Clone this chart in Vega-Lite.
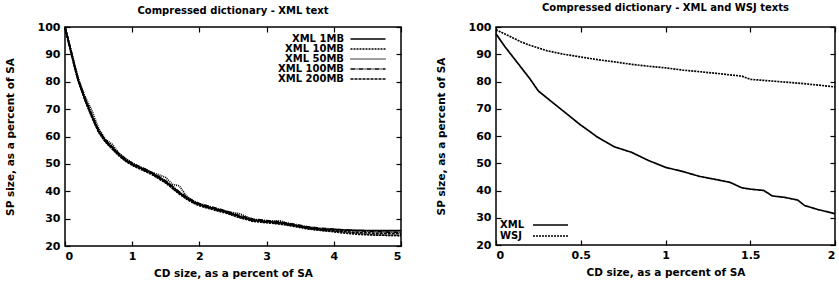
{
  "$schema": "https://vega.github.io/schema/vega-lite/v6.json",
  "padding": {"left": 4, "top": 2, "right": 0, "bottom": 2},
  "spacing": 29,
  "config": {
    "font": "DejaVu Sans",
    "view": {"stroke": "black", "strokeWidth": 1.5},
    "axis": {"domain": false, "grid": false, "labelFont": "DejaVu Sans", "labelFontSize": 11, "labelFontWeight": "bold", "labelColor": "black", "titleFont": "DejaVu Sans", "titleFontSize": 10.5, "titleFontWeight": "bold", "titleColor": "black", "tickColor": "black", "tickWidth": 1.2, "tickSize": -5, "labelPadding": 10},
    "title": {"font": "DejaVu Sans", "fontSize": 10, "fontWeight": "bold", "color": "black", "anchor": "middle", "offset": 5},
    "legend": {"title": null, "labelFont": "DejaVu Sans", "labelFontSize": 10, "labelFontWeight": "bold", "labelColor": "black", "symbolStrokeColor": "black", "symbolFillColor": "transparent", "symbolStrokeWidth": 1.5, "symbolSize": 100, "rowPadding": 0, "padding": 0}
  },
  "resolve": {"scale": {"strokeDash": "independent"}, "legend": {"strokeDash": "independent"}},
  "datasets": {
    "left": [
      {"series":"XML 1MB","cd":0,"sp":100},{"series":"XML 1MB","cd":0.05,"sp":95},{"series":"XML 1MB","cd":0.1,"sp":90},{"series":"XML 1MB","cd":0.15,"sp":85},{"series":"XML 1MB","cd":0.2,"sp":80.5},{"series":"XML 1MB","cd":0.3,"sp":73.5},{"series":"XML 1MB","cd":0.4,"sp":67.5},{"series":"XML 1MB","cd":0.5,"sp":62},{"series":"XML 1MB","cd":0.6,"sp":58.5},{"series":"XML 1MB","cd":0.7,"sp":56},{"series":"XML 1MB","cd":0.8,"sp":53.5},{"series":"XML 1MB","cd":0.9,"sp":51.5},{"series":"XML 1MB","cd":1.0,"sp":50},{"series":"XML 1MB","cd":1.1,"sp":48.8},{"series":"XML 1MB","cd":1.2,"sp":47.7},{"series":"XML 1MB","cd":1.3,"sp":46.5},{"series":"XML 1MB","cd":1.4,"sp":45},{"series":"XML 1MB","cd":1.5,"sp":43.5},{"series":"XML 1MB","cd":1.6,"sp":41.5},{"series":"XML 1MB","cd":1.7,"sp":39.5},{"series":"XML 1MB","cd":1.8,"sp":37.8},{"series":"XML 1MB","cd":1.9,"sp":36.3},{"series":"XML 1MB","cd":2.0,"sp":35.2},{"series":"XML 1MB","cd":2.2,"sp":33.8},{"series":"XML 1MB","cd":2.4,"sp":32.5},{"series":"XML 1MB","cd":2.6,"sp":30.8},{"series":"XML 1MB","cd":2.8,"sp":29.5},{"series":"XML 1MB","cd":3.0,"sp":29},{"series":"XML 1MB","cd":3.2,"sp":28.5},{"series":"XML 1MB","cd":3.4,"sp":27.7},{"series":"XML 1MB","cd":3.6,"sp":26.8},{"series":"XML 1MB","cd":3.8,"sp":26.2},{"series":"XML 1MB","cd":4.0,"sp":26},{"series":"XML 1MB","cd":4.2,"sp":25.8},{"series":"XML 1MB","cd":4.4,"sp":25.7},{"series":"XML 1MB","cd":4.6,"sp":25.6},{"series":"XML 1MB","cd":4.8,"sp":25.6},{"series":"XML 1MB","cd":5.0,"sp":25.6},
      {"series":"XML 10MB","cd":0,"sp":100},{"series":"XML 10MB","cd":0.05,"sp":94.5},{"series":"XML 10MB","cd":0.1,"sp":89.5},{"series":"XML 10MB","cd":0.15,"sp":84.5},{"series":"XML 10MB","cd":0.2,"sp":80},{"series":"XML 10MB","cd":0.3,"sp":73},{"series":"XML 10MB","cd":0.4,"sp":67},{"series":"XML 10MB","cd":0.5,"sp":61.5},{"series":"XML 10MB","cd":0.6,"sp":58},{"series":"XML 10MB","cd":0.7,"sp":55.5},{"series":"XML 10MB","cd":0.8,"sp":53},{"series":"XML 10MB","cd":0.9,"sp":51},{"series":"XML 10MB","cd":1.0,"sp":49.5},{"series":"XML 10MB","cd":1.1,"sp":48.3},{"series":"XML 10MB","cd":1.2,"sp":47.2},{"series":"XML 10MB","cd":1.3,"sp":46},{"series":"XML 10MB","cd":1.4,"sp":44.5},{"series":"XML 10MB","cd":1.5,"sp":43},{"series":"XML 10MB","cd":1.6,"sp":41},{"series":"XML 10MB","cd":1.7,"sp":39},{"series":"XML 10MB","cd":1.8,"sp":37.3},{"series":"XML 10MB","cd":1.9,"sp":35.8},{"series":"XML 10MB","cd":2.0,"sp":34.7},{"series":"XML 10MB","cd":2.2,"sp":33.3},{"series":"XML 10MB","cd":2.4,"sp":32},{"series":"XML 10MB","cd":2.6,"sp":30.3},{"series":"XML 10MB","cd":2.8,"sp":29},{"series":"XML 10MB","cd":3.0,"sp":28.5},{"series":"XML 10MB","cd":3.2,"sp":28},{"series":"XML 10MB","cd":3.4,"sp":27.2},{"series":"XML 10MB","cd":3.6,"sp":26.3},{"series":"XML 10MB","cd":3.8,"sp":25.7},{"series":"XML 10MB","cd":4.0,"sp":25.2},{"series":"XML 10MB","cd":4.2,"sp":24.6},{"series":"XML 10MB","cd":4.4,"sp":24.2},{"series":"XML 10MB","cd":4.6,"sp":24},{"series":"XML 10MB","cd":4.8,"sp":23.9},{"series":"XML 10MB","cd":5.0,"sp":23.8},
      {"series":"XML 50MB","cd":0,"sp":100},{"series":"XML 50MB","cd":0.05,"sp":95.3},{"series":"XML 50MB","cd":0.1,"sp":90.5},{"series":"XML 50MB","cd":0.15,"sp":85.5},{"series":"XML 50MB","cd":0.2,"sp":81},{"series":"XML 50MB","cd":0.3,"sp":74.5},{"series":"XML 50MB","cd":0.4,"sp":69.5},{"series":"XML 50MB","cd":0.5,"sp":63},{"series":"XML 50MB","cd":0.6,"sp":59},{"series":"XML 50MB","cd":0.7,"sp":57.2},{"series":"XML 50MB","cd":0.8,"sp":54},{"series":"XML 50MB","cd":0.9,"sp":52},{"series":"XML 50MB","cd":1.0,"sp":50.3},{"series":"XML 50MB","cd":1.1,"sp":49},{"series":"XML 50MB","cd":1.2,"sp":48},{"series":"XML 50MB","cd":1.3,"sp":46.8},{"series":"XML 50MB","cd":1.4,"sp":46},{"series":"XML 50MB","cd":1.5,"sp":45},{"series":"XML 50MB","cd":1.6,"sp":42.5},{"series":"XML 50MB","cd":1.7,"sp":42},{"series":"XML 50MB","cd":1.8,"sp":38.5},{"series":"XML 50MB","cd":1.9,"sp":36.5},{"series":"XML 50MB","cd":2.0,"sp":35.3},{"series":"XML 50MB","cd":2.2,"sp":33.8},{"series":"XML 50MB","cd":2.4,"sp":32.6},{"series":"XML 50MB","cd":2.6,"sp":31.8},{"series":"XML 50MB","cd":2.8,"sp":29.6},{"series":"XML 50MB","cd":3.0,"sp":29},{"series":"XML 50MB","cd":3.2,"sp":29.2},{"series":"XML 50MB","cd":3.4,"sp":27.6},{"series":"XML 50MB","cd":3.6,"sp":26.5},{"series":"XML 50MB","cd":3.8,"sp":25.8},{"series":"XML 50MB","cd":4.0,"sp":25.4},{"series":"XML 50MB","cd":4.2,"sp":25},{"series":"XML 50MB","cd":4.4,"sp":24.5},{"series":"XML 50MB","cd":4.6,"sp":24.1},{"series":"XML 50MB","cd":4.8,"sp":23.9},{"series":"XML 50MB","cd":5.0,"sp":23.8},
      {"series":"XML 100MB","cd":0,"sp":100},{"series":"XML 100MB","cd":0.05,"sp":95.3},{"series":"XML 100MB","cd":0.1,"sp":90.3},{"series":"XML 100MB","cd":0.15,"sp":85.3},{"series":"XML 100MB","cd":0.2,"sp":80.8},{"series":"XML 100MB","cd":0.3,"sp":73.8},{"series":"XML 100MB","cd":0.4,"sp":67.8},{"series":"XML 100MB","cd":0.5,"sp":62.3},{"series":"XML 100MB","cd":0.6,"sp":58.8},{"series":"XML 100MB","cd":0.7,"sp":56.3},{"series":"XML 100MB","cd":0.8,"sp":53.8},{"series":"XML 100MB","cd":0.9,"sp":51.8},{"series":"XML 100MB","cd":1.0,"sp":50.3},{"series":"XML 100MB","cd":1.1,"sp":49.1},{"series":"XML 100MB","cd":1.2,"sp":48},{"series":"XML 100MB","cd":1.3,"sp":46.8},{"series":"XML 100MB","cd":1.4,"sp":45.3},{"series":"XML 100MB","cd":1.5,"sp":43.8},{"series":"XML 100MB","cd":1.6,"sp":41.8},{"series":"XML 100MB","cd":1.7,"sp":39.8},{"series":"XML 100MB","cd":1.8,"sp":38.1},{"series":"XML 100MB","cd":1.9,"sp":36.6},{"series":"XML 100MB","cd":2.0,"sp":35.5},{"series":"XML 100MB","cd":2.2,"sp":34.1},{"series":"XML 100MB","cd":2.4,"sp":32.8},{"series":"XML 100MB","cd":2.6,"sp":31.1},{"series":"XML 100MB","cd":2.8,"sp":29.8},{"series":"XML 100MB","cd":3.0,"sp":29.3},{"series":"XML 100MB","cd":3.2,"sp":28.8},{"series":"XML 100MB","cd":3.4,"sp":28},{"series":"XML 100MB","cd":3.6,"sp":27.1},{"series":"XML 100MB","cd":3.8,"sp":26.5},{"series":"XML 100MB","cd":4.0,"sp":26.2},{"series":"XML 100MB","cd":4.2,"sp":25.8},{"series":"XML 100MB","cd":4.4,"sp":25.5},{"series":"XML 100MB","cd":4.6,"sp":25.3},{"series":"XML 100MB","cd":4.8,"sp":25.1},{"series":"XML 100MB","cd":5.0,"sp":25},
      {"series":"XML 200MB","cd":0,"sp":100},{"series":"XML 200MB","cd":0.05,"sp":94.7},{"series":"XML 200MB","cd":0.1,"sp":89.7},{"series":"XML 200MB","cd":0.15,"sp":84.7},{"series":"XML 200MB","cd":0.2,"sp":80.2},{"series":"XML 200MB","cd":0.3,"sp":73.2},{"series":"XML 200MB","cd":0.4,"sp":67.2},{"series":"XML 200MB","cd":0.5,"sp":61.7},{"series":"XML 200MB","cd":0.6,"sp":58.2},{"series":"XML 200MB","cd":0.7,"sp":55.7},{"series":"XML 200MB","cd":0.8,"sp":53.2},{"series":"XML 200MB","cd":0.9,"sp":51.2},{"series":"XML 200MB","cd":1.0,"sp":49.7},{"series":"XML 200MB","cd":1.1,"sp":48.5},{"series":"XML 200MB","cd":1.2,"sp":47.4},{"series":"XML 200MB","cd":1.3,"sp":46.2},{"series":"XML 200MB","cd":1.4,"sp":44.7},{"series":"XML 200MB","cd":1.5,"sp":43.2},{"series":"XML 200MB","cd":1.6,"sp":41.2},{"series":"XML 200MB","cd":1.7,"sp":39.2},{"series":"XML 200MB","cd":1.8,"sp":37.5},{"series":"XML 200MB","cd":1.9,"sp":36},{"series":"XML 200MB","cd":2.0,"sp":34.9},{"series":"XML 200MB","cd":2.2,"sp":33.5},{"series":"XML 200MB","cd":2.4,"sp":32.2},{"series":"XML 200MB","cd":2.6,"sp":30.5},{"series":"XML 200MB","cd":2.8,"sp":29.2},{"series":"XML 200MB","cd":3.0,"sp":28.7},{"series":"XML 200MB","cd":3.2,"sp":28.2},{"series":"XML 200MB","cd":3.4,"sp":27.4},{"series":"XML 200MB","cd":3.6,"sp":26.5},{"series":"XML 200MB","cd":3.8,"sp":25.9},{"series":"XML 200MB","cd":4.0,"sp":25.6},{"series":"XML 200MB","cd":4.2,"sp":25.2},{"series":"XML 200MB","cd":4.4,"sp":24.9},{"series":"XML 200MB","cd":4.6,"sp":24.7},{"series":"XML 200MB","cd":4.8,"sp":24.6},{"series":"XML 200MB","cd":5.0,"sp":24.5}
    ],
    "right": [
      {"series":"XML","cd":0,"sp":97.5},{"series":"XML","cd":0.05,"sp":93},{"series":"XML","cd":0.1,"sp":89},{"series":"XML","cd":0.15,"sp":85},{"series":"XML","cd":0.2,"sp":81},{"series":"XML","cd":0.25,"sp":76.5},{"series":"XML","cd":0.3,"sp":74},{"series":"XML","cd":0.35,"sp":71.5},{"series":"XML","cd":0.4,"sp":69},{"series":"XML","cd":0.45,"sp":66.5},{"series":"XML","cd":0.5,"sp":64},{"series":"XML","cd":0.55,"sp":61.8},{"series":"XML","cd":0.6,"sp":59.5},{"series":"XML","cd":0.7,"sp":56},{"series":"XML","cd":0.8,"sp":54},{"series":"XML","cd":0.9,"sp":51},{"series":"XML","cd":1.0,"sp":48.5},{"series":"XML","cd":1.1,"sp":47},{"series":"XML","cd":1.2,"sp":45.2},{"series":"XML","cd":1.3,"sp":44},{"series":"XML","cd":1.38,"sp":43},{"series":"XML","cd":1.45,"sp":41},{"series":"XML","cd":1.5,"sp":40.5},{"series":"XML","cd":1.58,"sp":40},{"series":"XML","cd":1.63,"sp":38},{"series":"XML","cd":1.7,"sp":37.5},{"series":"XML","cd":1.78,"sp":36.5},{"series":"XML","cd":1.82,"sp":34.5},{"series":"XML","cd":1.9,"sp":33},{"series":"XML","cd":2.0,"sp":31.5},
      {"series":"WSJ","cd":0,"sp":99},{"series":"WSJ","cd":0.05,"sp":97.5},{"series":"WSJ","cd":0.1,"sp":96},{"series":"WSJ","cd":0.15,"sp":94.5},{"series":"WSJ","cd":0.2,"sp":93.3},{"series":"WSJ","cd":0.3,"sp":91.3},{"series":"WSJ","cd":0.4,"sp":90},{"series":"WSJ","cd":0.5,"sp":89},{"series":"WSJ","cd":0.6,"sp":88},{"series":"WSJ","cd":0.7,"sp":87.2},{"series":"WSJ","cd":0.8,"sp":86.3},{"series":"WSJ","cd":0.9,"sp":85.6},{"series":"WSJ","cd":1.0,"sp":85},{"series":"WSJ","cd":1.1,"sp":84.2},{"series":"WSJ","cd":1.2,"sp":83.6},{"series":"WSJ","cd":1.3,"sp":83},{"series":"WSJ","cd":1.4,"sp":82.3},{"series":"WSJ","cd":1.45,"sp":82},{"series":"WSJ","cd":1.5,"sp":80.8},{"series":"WSJ","cd":1.6,"sp":80.3},{"series":"WSJ","cd":1.7,"sp":79.8},{"series":"WSJ","cd":1.8,"sp":79.3},{"series":"WSJ","cd":1.9,"sp":78.7},{"series":"WSJ","cd":2.0,"sp":78}
    ]
  },
  "hconcat": [
    {
      "width": 336, "height": 219,
      "title": "Compressed dictionary - XML text",
      "data": {"name": "left"},
      "layer": [
        {
          "mark": {"type": "line", "color": "black", "strokeWidth": 1.7},
          "encoding": {
            "x": {"field": "cd", "type": "quantitative", "scale": {"domain": [0, 5]}, "axis": {"orient": "bottom", "values": [0,1,2,3,4,5], "format": "~g", "title": "CD size, as a percent of SA", "titlePadding": 7, "labelPadding": 9}},
            "y": {"field": "sp", "type": "quantitative", "scale": {"domain": [20, 100]}, "axis": {"orient": "left", "values": [20,30,40,50,60,70,80,90,100], "title": "SP size, as a percent of SA", "titlePadding": 22}},
            "strokeDash": {"field": "series", "type": "nominal", "scale": {"domain": ["XML 1MB","XML 10MB","XML 50MB","XML 100MB","XML 200MB"], "range": [[1,0],[2,1],[1,1],[5,1,1,1],[3,1]]}, "legend": {"orient": "top-right", "offset": 7, "symbolSize": 64, "symbolType": "M-5.625,0H3.125M4.5,0", "labelAlign": "right", "labelOffset": -34, "rowPadding": 0}}
          }
        },
        {
          "mark": {"type": "line", "opacity": 0},
          "encoding": {
            "x": {"field": "cd", "type": "quantitative", "axis": {"orient": "top", "values": [0,1,2,3,4,5], "labels": false, "title": null}},
            "y": {"field": "sp", "type": "quantitative", "axis": {"orient": "right", "values": [20,30,40,50,60,70,80,90,100], "labels": false, "title": null}},
            "detail": {"field": "series"}
          }
        }
      ],
      "resolve": {"axis": {"x": "independent", "y": "independent"}}
    },
    {
      "width": 339, "height": 218,
      "title": {"text": "Compressed dictionary - XML and WSJ texts", "offset": 8},
      "data": {"name": "right"},
      "layer": [
        {
          "mark": {"type": "line", "color": "black", "strokeWidth": 1.7},
          "encoding": {
            "x": {"field": "cd", "type": "quantitative", "scale": {"domain": [0, 2]}, "axis": {"orient": "bottom", "values": [0,0.5,1,1.5,2], "format": "~g", "title": "CD size, as a percent of SA", "titlePadding": 7, "labelPadding": 9}},
            "y": {"field": "sp", "type": "quantitative", "scale": {"domain": [20, 100]}, "axis": {"orient": "left", "values": [20,30,40,50,60,70,80,90,100], "title": "SP size, as a percent of SA", "titlePadding": 22}},
            "strokeDash": {"field": "series", "type": "nominal", "scale": {"domain": ["XML","WSJ"], "range": [[1,0],[2,1]]}, "legend": {"orient": "bottom-left", "offset": 4, "symbolType": "M5.4,0H12.4", "labelAlign": "left", "labelOffset": -12}}
          }
        },
        {
          "mark": {"type": "line", "opacity": 0},
          "encoding": {
            "x": {"field": "cd", "type": "quantitative", "axis": {"orient": "top", "values": [0,0.5,1,1.5,2], "labels": false, "title": null}},
            "y": {"field": "sp", "type": "quantitative", "axis": {"orient": "right", "values": [20,30,40,50,60,70,80,90,100], "labels": false, "title": null}},
            "detail": {"field": "series"}
          }
        }
      ],
      "resolve": {"axis": {"x": "independent", "y": "independent"}}
    }
  ]
}
